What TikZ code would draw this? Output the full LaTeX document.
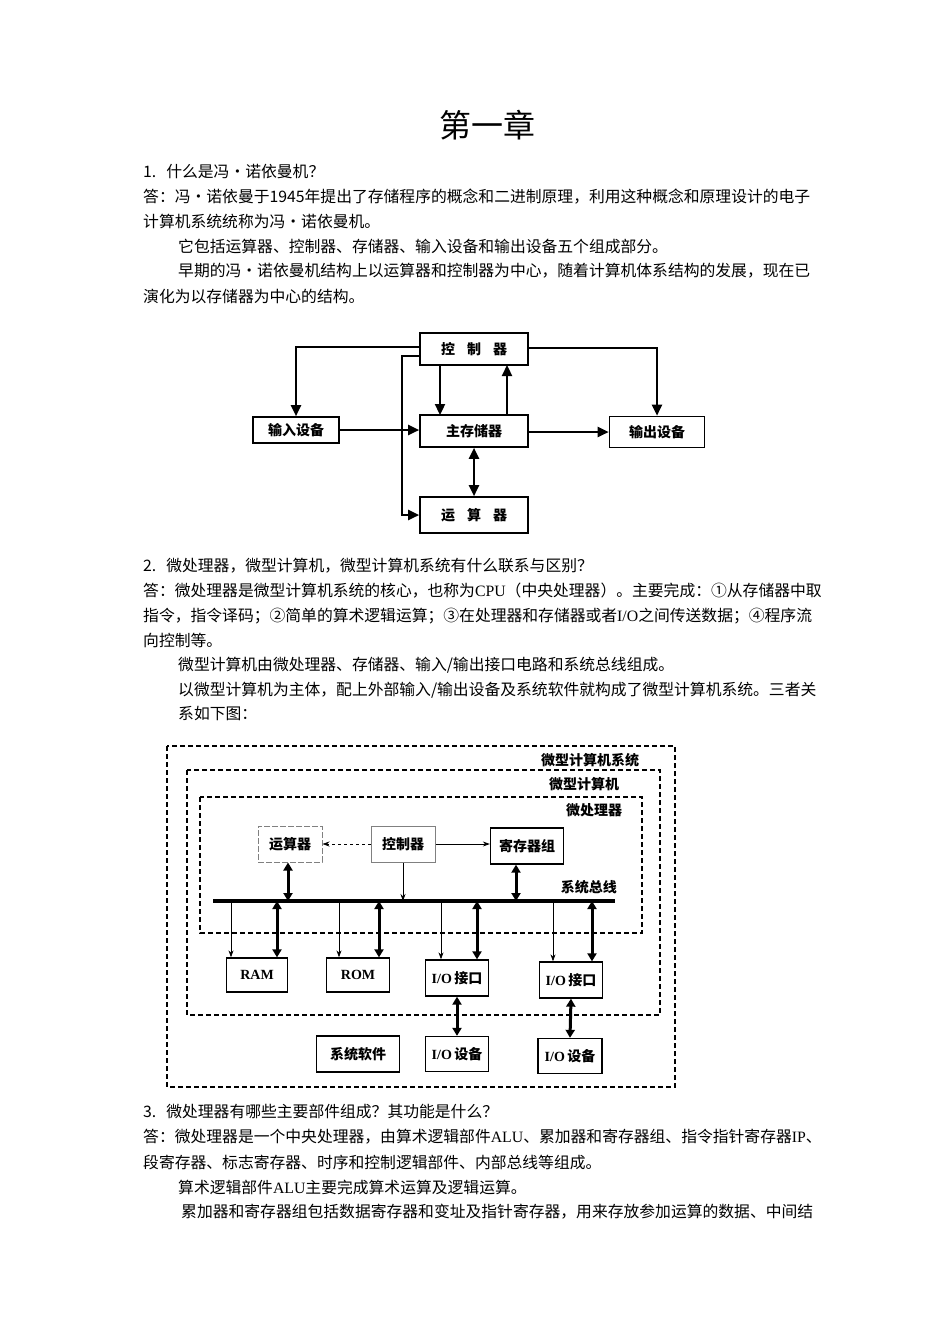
\documentclass[tikz,border=0pt]{standalone}
\usepackage{fontspec}
\setmainfont{Liberation Serif}
\newfontfamily\cjk{Noto Sans CJK SC}
\usetikzlibrary{arrows.meta}
\newcommand{\lat}[1]{{\rmfamily #1}}
\tikzset{
  txt/.style={anchor=west,inner sep=0pt,font=\cjk\fontsize{15.8}{17}\selectfont},
  boxa/.style={draw,line width=1.6pt,inner sep=0pt,font=\cjk\bfseries\fontsize{14}{15}\selectfont},
  arra/.style={line width=2.3pt,-{Triangle[length=11pt,width=10pt]}},
  darra/.style={line width=2.3pt,{Triangle[length=11pt,width=10pt]}-{Triangle[length=11pt,width=10pt]}},
  boxb/.style={draw,line width=1.3pt,inner sep=0pt,font=\cjk\bfseries\fontsize{14}{15}\selectfont},
  dbox/.style={draw,line width=1.2pt,dash pattern=on 5pt off 3pt},
  tn/.style={line width=0.8pt,-{Stealth[length=7pt,width=5pt]}},
  tk/.style={line width=3pt,{Triangle[length=8pt,width=9pt]}-{Triangle[length=8pt,width=9pt]}},
  lbl/.style={inner sep=0pt,font=\cjk\bfseries\fontsize{14}{15}\selectfont},
}
\begin{document}
\begin{tikzpicture}[x=1pt,y=-1pt]
\useasboundingbox (0,0) rectangle (950,1344);
\node[inner sep=0pt,font=\cjk\fontsize{32}{34}\selectfont] (title) at (487,125) {第一章};
\node[txt] (t1) at (143,172) {1.\hspace{10pt}什么是冯•诺依曼机？};
\node[txt] (t2) at (143,197) {答：冯•诺依曼于1945年提出了存储程序的概念和二进制原理，利用这种概念和原理设计的电子};
\node[txt] (t3) at (143,221) {计算机系统统称为冯•诺依曼机。};
\node[txt] (t4) at (178,246) {它包括运算器、控制器、存储器、输入设备和输出设备五个组成部分。};
\node[txt] (t5) at (178,271) {早期的冯•诺依曼机结构上以运算器和控制器为中心，随着计算机体系结构的发展，现在已};
\node[txt] (t6) at (143,296) {演化为以存储器为中心的结构。};

% diagram 1
\node[boxa,minimum width=108pt,minimum height=32pt] (ctl) at (474,349) {控\hspace{12pt}制\hspace{12pt}器};
\node[boxa,minimum width=86pt,minimum height=26pt] (in) at (296,430) {输入设备};
\node[boxa,minimum width=108pt,minimum height=32pt] (mem) at (474,431) {主存储器};
\node[boxa,minimum width=95pt,minimum height=31pt] (out) at (657,432) {输出设备};
\node[boxa,minimum width=108pt,minimum height=36pt] (alu) at (474,515) {运\hspace{12pt}算\hspace{12pt}器};
\draw[arra] (ctl.west|-0,347) -| (in.north);
\draw[arra] (ctl.east|-0,348) -| (out.north);
\draw[arra] (ctl.west|-0,356) -| (402,515) -- (alu.west);
\draw[arra] (in.east) -- (mem.west|-in.east);
\draw[arra] (440,365) -- (440,415);
\draw[arra] (507,415) -- (507,365);
\draw[arra] (mem.east|-0,432) -- (out.west|-0,432);
\draw[darra] (mem.south) -- (alu.north);

\node[txt] (s1) at (143,566) {2.\hspace{10pt}微处理器，微型计算机，微型计算机系统有什么联系与区别？};
\node[txt] (s2) at (143,591) {答：微处理器是微型计算机系统的核心，也称为\lat{CPU}（中央处理器）。主要完成：①从存储器中取};
\node[txt] (s3) at (143,616) {指令，指令译码；②简单的算术逻辑运算；③在处理器和存储器或者\lat{I/O}之间传送数据；④程序流};
\node[txt] (s4) at (143,640) {向控制等。};
\node[txt] (s5) at (178,665) {微型计算机由微处理器、存储器、输入/输出接口电路和系统总线组成。};
\node[txt] (s6) at (178,690) {以微型计算机为主体，配上外部输入/输出设备及系统软件就构成了微型计算机系统。三者关};
\node[txt] (s7) at (178,714) {系如下图：};

% diagram 2
\draw[dbox] (167,746) rectangle (675,1087);
\draw[dbox] (187,770) rectangle (660,1015);
\draw[dbox] (200,797) rectangle (642,933);
\node[lbl] (l1) at (590,760) {微型计算机系统};
\node[lbl] (l2) at (584,784) {微型计算机};
\node[lbl] (l3) at (594,810) {微处理器};
\node[boxb,draw=gray,line width=1pt,dash pattern=on 6pt off 2pt,minimum width=64pt,minimum height=36pt] (ys) at (290,844) {运算器};
\node[boxb,draw=gray,line width=1pt,minimum width=64pt,minimum height=36pt] (kz) at (403,844) {控制器};
\node[boxb,minimum width=73pt,minimum height=36pt] (jc) at (527,846) {寄存器组};
\draw[line width=0.8pt,dashed,-{Stealth[length=7pt,width=5pt]}] (kz.west) -- (ys.east);
\draw[tn] (kz.east) -- (jc.west|-kz.east);
\coordinate (bl) at (213,901);
\coordinate (br) at (615,901);
\draw[line width=3.5pt] (bl) -- (br);
\node[lbl,anchor=east] (l4) at (617,887) {系统总线};
\draw[tk] (ys.south-|288,0) -- (288,901);
\draw[tn] (kz.south) -- (403,901);
\draw[tk] (jc.south-|516,0) -- (516,901);
\node[boxb,font=\bfseries\fontsize{14}{15}\selectfont,minimum width=61pt,minimum height=34pt] (ram) at (257,975) {RAM};
\node[boxb,font=\bfseries\fontsize{14}{15}\selectfont,minimum width=63pt,minimum height=34pt] (rom) at (358,975) {ROM};
\node[boxb,minimum width=63pt,minimum height=36pt] (io1) at (457,978) {\lat{I/O}\,接口};
\node[boxb,minimum width=63pt,minimum height=36pt] (io2) at (571,980) {\lat{I/O}\,接口};
\node[boxb,minimum width=63pt,minimum height=35pt] (dv1) at (457,1054) {\lat{I/O}\,设备};
\node[boxb,minimum width=64pt,minimum height=35pt] (dv2) at (570,1056) {\lat{I/O}\,设备};
\node[boxb,minimum width=83pt,minimum height=36pt] (sw) at (358,1054) {系统软件};
\draw[tn] (231,901) -- (ram.north-|231,0);
\draw[tk] (277,901) -- (ram.north-|277,0);
\draw[tn] (339,901) -- (rom.north-|339,0);
\draw[tk] (379,901) -- (rom.north-|379,0);
\draw[tn] (441,901) -- (io1.north-|441,0);
\draw[tk] (477,901) -- (io1.north-|477,0);
\draw[tn] (553,901) -- (io2.north-|553,0);
\draw[tk] (592,901) -- (io2.north-|592,0);
\draw[tk] (io1.south) -- (dv1.north);
\draw[tk] (io2.south) -- (dv2.north);

\node[txt] (u1) at (143,1112) {3.\hspace{10pt}微处理器有哪些主要部件组成？其功能是什么？};
\node[txt] (u2) at (143,1137) {答：微处理器是一个中央处理器，由算术逻辑部件\lat{ALU}、累加器和寄存器组、指令指针寄存器\lat{IP}、};
\node[txt] (u3) at (143,1162) {段寄存器、标志寄存器、时序和控制逻辑部件、内部总线等组成。};
\node[txt] (u4) at (178,1187) {算术逻辑部件\lat{ALU}主要完成算术运算及逻辑运算。};
\node[txt] (u5) at (181,1212) {累加器和寄存器组包括数据寄存器和变址及指针寄存器，用来存放参加运算的数据、中间结};
\end{tikzpicture}
\end{document}
